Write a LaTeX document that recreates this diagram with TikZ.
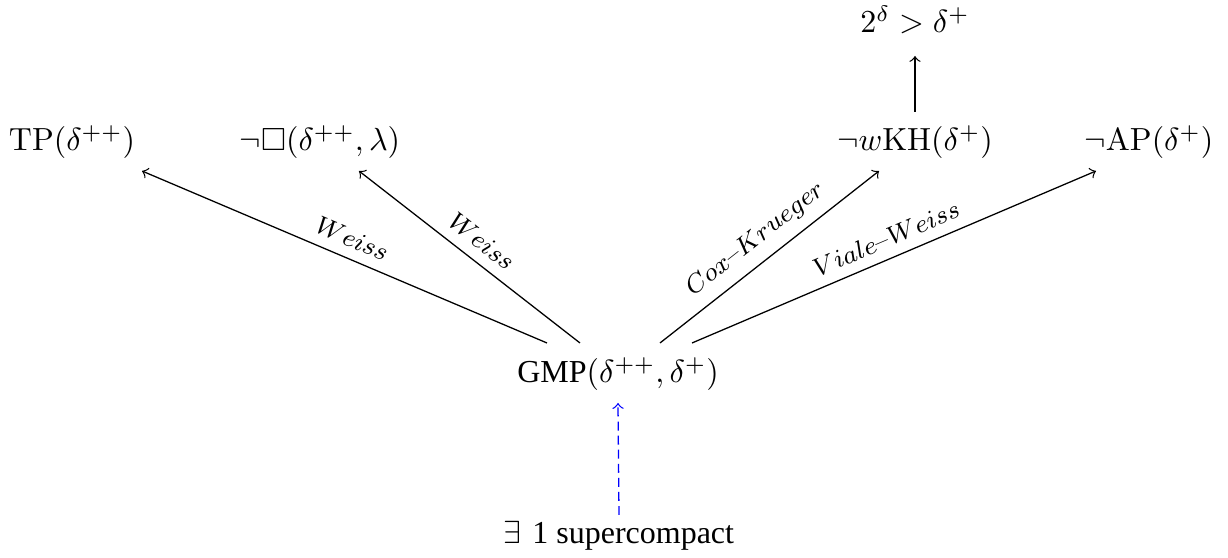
\documentclass[tikz,border=0pt]{standalone}
\usepackage{amssymb}
\usepackage{fontspec}
\usetikzlibrary{calc}
\newfontfamily\tmsfont{Liberation Serif}
\begin{document}
\begin{tikzpicture}[x=0.3125pt,y=-0.3125pt,>=to,
  obj/.style={anchor=base,inner sep=0.333em},
  lbl/.style={font=\footnotesize,sloped,above,midway},
  imp/.style={->},
  dimp/.style={->,blue,dash pattern=on 2.8pt off 1.6pt}]
\useasboundingbox (0,0) rectangle (1228,558);
\node[obj] (tp) at (72,151) {$\mathrm{TP}(\delta^{++})$};
\node[obj] (sq) at (320,151) {$\neg\square(\delta^{++},\lambda)$};
\node[obj] (kh) at (915,151) {$\neg w\mathrm{KH}(\delta^{+})$};
\node[obj] (ap) at (1149,151) {$\neg\mathrm{AP}(\delta^{+})$};
\node[obj] (ch) at (915,33) {$2^{\delta}>\delta^{+}$};
\node[obj] (gmp) at (618,383) {{\tmsfont GMP}$(\delta^{++},\delta^{+})$};
\node[obj] (sc) at (619,544) {$\exists$ {\tmsfont 1 supercompact}};
\coordinate (g1) at (547,343);
\coordinate (g2) at (580,343);
\coordinate (g3) at (660,343);
\coordinate (g4) at (692,343);
\coordinate (e1) at (142,171);
\coordinate (e2) at (359,171);
\coordinate (e3) at (879,171);
\coordinate (e4) at (1096,171);
\draw[imp] (g1) -- node[lbl] {$Weiss$} (e1);
\draw[imp] (g2) -- node[lbl] {$Weiss$} (e2);
\draw[imp] (g3) -- node[lbl] {$Cox$--$Krueger$} (e3);
\draw[imp] (g4) -- node[lbl] {$Viale$--$Weiss$} (e4);
\draw[imp] (kh.north |- 0,112) -- (ch.north |- 0,56);
\draw[dimp] (sc.north |- 0,515) -- (gmp.south |- 0,403);
\end{tikzpicture}
\end{document}
